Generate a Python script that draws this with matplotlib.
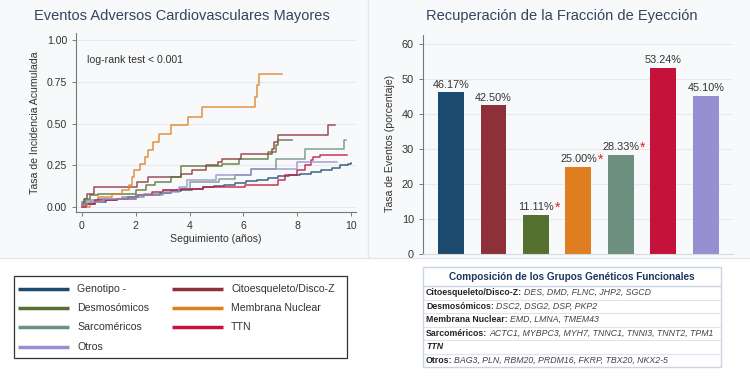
import matplotlib.pyplot as plt
from matplotlib.patches import Rectangle
from matplotlib.lines import Line2D

plt.rcParams["font.family"] = ["Liberation Sans", "DejaVu Sans"]

# grupos y colores
grupos = ["Genotipo -", "Citoesqueleto/Disco-Z", "Desmosómicos", "Membrana Nuclear",
          "Sarcoméricos", "TTN", "Otros"]
colores = ["#1c4a6e", "#8e3039", "#55702f", "#e07f22", "#6e9080", "#c4123a", "#968fd2"]

# curvas de incidencia acumulada
t_genotipo = [0, 0.2, 0.5, 0.9, 1.3, 1.7, 2.1, 2.5, 2.9, 3.3, 3.7, 4.1, 4.5, 4.9, 5.3, 5.7,
              6.1, 6.5, 6.9, 7.3, 7.7, 8.1, 8.5, 8.9, 9.3, 9.6, 9.9, 10.0]
y_genotipo = [0.01, 0.02, 0.03, 0.04, 0.05, 0.06, 0.07, 0.075, 0.085, 0.095, 0.105, 0.11,
              0.12, 0.125, 0.135, 0.145, 0.155, 0.165, 0.175, 0.185, 0.19, 0.20, 0.21,
              0.22, 0.235, 0.25, 0.26, 0.265]
t_citoesq = [0, 0.08, 0.2, 0.45, 2.05, 2.45, 3.7, 4.1, 4.6, 5.05, 5.2, 5.9, 7.05, 7.15, 7.3, 9.15, 9.4]
y_citoesq = [0.02, 0.05, 0.08, 0.12, 0.15, 0.18, 0.20, 0.22, 0.25, 0.27, 0.29, 0.32, 0.35,
             0.39, 0.43, 0.49, 0.49]
t_desmo = [0, 0.1, 0.3, 0.6, 2.0, 2.4, 2.7, 3.3, 3.7, 5.2, 5.85, 6.9, 7.2, 7.3, 7.8]
y_desmo = [0.03, 0.05, 0.07, 0.08, 0.10, 0.13, 0.15, 0.18, 0.245, 0.26, 0.29, 0.33, 0.37, 0.40, 0.40]
t_membrana = [0, 0.3, 0.6, 1.1, 1.5, 1.75, 1.85, 1.95, 2.15, 2.35, 2.45, 2.65, 2.85, 3.3,
              3.95, 4.45, 6.45, 6.52, 6.58, 7.45]
y_membrana = [0.0, 0.03, 0.06, 0.08, 0.10, 0.13, 0.18, 0.22, 0.26, 0.30, 0.34, 0.39, 0.44,
              0.49, 0.54, 0.60, 0.66, 0.73, 0.80, 0.80]
t_sarco = [0, 0.15, 0.6, 1.5, 2.3, 3.0, 3.6, 4.0, 5.1, 5.7, 6.3, 7.2, 8.3, 9.75, 9.8]
y_sarco = [0.02, 0.04, 0.05, 0.06, 0.08, 0.10, 0.11, 0.15, 0.17, 0.19, 0.23, 0.29, 0.35, 0.40, 0.40]
t_ttn = [0, 0.15, 0.5, 1.3, 2.0, 2.6, 3.0, 3.7, 4.5, 6.05, 7.3, 7.55, 8.0, 8.3, 8.5, 8.6, 8.85, 9.85]
y_ttn = [0.0, 0.02, 0.04, 0.05, 0.07, 0.09, 0.10, 0.11, 0.12, 0.13, 0.16, 0.19, 0.22, 0.25,
         0.28, 0.30, 0.31, 0.31]
t_otros = [0, 0.2, 0.8, 2.0, 3.0, 3.6, 3.9, 5.0, 6.3, 8.0, 9.5]
y_otros = [0.01, 0.03, 0.05, 0.07, 0.09, 0.12, 0.16, 0.19, 0.23, 0.27, 0.27]

curvas = [(t_genotipo, y_genotipo), (t_citoesq, y_citoesq), (t_desmo, y_desmo),
          (t_membrana, y_membrana), (t_sarco, y_sarco), (t_ttn, y_ttn), (t_otros, y_otros)]

# recuperación de la FE (%)
recuperacion = [46.17, 42.50, 11.11, 25.00, 28.33, 53.24, 45.10]
significativo = [False, False, True, True, True, False, False]

# tabla de composición
tabla_grupos = ["Citoesqueleto/Disco-Z", "Desmosómicos", "Membrana Nuclear", "Sarcoméricos", "TTN", "Otros"]
tabla_genes = ["DES, DMD, FLNC, JHP2, SGCD", "DSC2, DSG2, DSP, PKP2", "EMD, LMNA, TMEM43",
               "ACTC1, MYBPC3, MYH7, TNNC1, TNNI3, TNNT2, TPM1", "",
               "BAG3, PLN, RBM20, PRDM16, FKRP, TBX20, NKX2-5"]

W, H = 750, 385
fig = plt.figure(figsize=(W / 100, H / 100), dpi=100)


def px(l, t, r, b):
    return [l / W, 1 - b / H, (r - l) / W, (b - t) / H]


# fondo de los paneles superiores
fig.patches.append(Rectangle((0, 1 - 258 / H), 1, 258 / H, transform=fig.transFigure,
                             facecolor="#f8f9fa", edgecolor="none", zorder=-10))
fig.lines.append(Line2D([368 / W, 368 / W], [1 - 258 / H, 1], transform=fig.transFigure,
                        color="#e2e7ea", lw=1))
fig.lines.append(Line2D([0, 1], [1 - 258 / H, 1 - 258 / H], transform=fig.transFigure,
                        color="#e2e7ea", lw=1))

titulo_color = "#34435e"

# ---- panel izquierdo: incidencia acumulada
ax1 = fig.add_axes(px(76, 33, 356, 212))
ax1.set_facecolor("none")
for (t, y), c in zip(curvas, colores):
    ax1.plot(t, y, drawstyle="steps-post", color=c, lw=1.1, alpha=0.85)
ax1.set_xlim(-0.22, 10.19)
ax1.set_ylim(-0.03, 1.045)
ax1.set_xticks([0, 2, 4, 6, 8, 10])
ax1.set_yticks([0, 0.25, 0.5, 0.75, 1.0])
ax1.set_yticklabels(["0.00", "0.25", "0.50", "0.75", "1.00"])
ax1.grid(axis="y", color="#e6eaec", lw=0.8)
ax1.set_axisbelow(True)
for s in ["top", "right"]:
    ax1.spines[s].set_visible(False)
for s in ["left", "bottom"]:
    ax1.spines[s].set_color("#777777")
    ax1.spines[s].set_linewidth(0.8)
ax1.tick_params(colors="#777777", labelcolor="#333333", labelsize=7.6, length=3, width=0.7)
ax1.text(0.2, 0.88, "log-rank test < 0.001", fontsize=7.6, color="#333333", va="center")
fig.text(216 / W, 1 - 239 / H, "Seguimiento (años)", fontsize=7.6, color="#333333",
         ha="center", va="center")
fig.text(35 / W, 1 - 123 / H, "Tasa de Incidencia Acumulada", fontsize=7.6, color="#333333",
         ha="center", va="center", rotation=90)
fig.text(182 / W, 1 - 16 / H, "Eventos Adversos Cardiovasculares Mayores", fontsize=10.5,
         color=titulo_color, ha="center", va="center")

# ---- panel derecho: barras
ax2 = fig.add_axes(px(423, 35, 733, 254))
ax2.set_facecolor("none")
x = list(range(len(recuperacion)))
ax2.bar(x, recuperacion, width=0.61, color=colores, zorder=2)
ax2.set_xlim(-0.66, 6.64)
ax2.set_ylim(0, 62.6)
ax2.set_yticks(range(0, 61, 10))
ax2.set_xticks([])
ax2.grid(axis="y", color="#e6eaec", lw=0.8)
ax2.set_axisbelow(True)
for s in ["top", "right"]:
    ax2.spines[s].set_visible(False)
ax2.spines["left"].set_color("#777777")
ax2.spines["left"].set_linewidth(0.8)
ax2.spines["bottom"].set_color("#d5dadd")
ax2.spines["bottom"].set_linewidth(0.8)
ax2.tick_params(colors="#777777", labelcolor="#333333", labelsize=7.8, length=3, width=0.7)
for xi, v, sig in zip(x, recuperacion, significativo):
    ax2.annotate(f"{v:.2f}%", (xi, v), xytext=(0, 2), textcoords="offset points",
                 ha="center", va="bottom", fontsize=7.8, color="#333333")
    if sig:
        ax2.annotate("*", (xi, v), xytext=(15.6, 0), textcoords="offset points",
                     ha="center", va="bottom", fontsize=10, color="#e02020")
fig.text(390 / W, 1 - 143 / H, "Tasa de Eventos (porcentaje)", fontsize=7.6, color="#333333",
         ha="center", va="center", rotation=90)
fig.text(562 / W, 1 - 16 / H, "Recuperación de la Fracción de Eyección", fontsize=10.5,
         color=titulo_color, ha="center", va="center")

# ---- leyenda
axl = fig.add_axes(px(13, 276, 347, 359))
axl.set_xlim(13, 347)
axl.set_ylim(359, 276)
axl.axis("off")
axl.add_patch(Rectangle((13.5, 276.5), 333, 82, facecolor="white", edgecolor="#333333",
                        lw=0.9, clip_on=False))
orden = [0, 2, 4, 6, 1, 3, 5]
filas_y = [289, 308, 327.5, 347]
for k, g in enumerate(orden):
    col, fila = divmod(k, 4)
    x0 = 18 + col * 154
    yy = filas_y[fila]
    axl.plot([x0, x0 + 51], [yy, yy], color=colores[g], lw=2.5, solid_capstyle="butt")
    axl.text(x0 + 59, yy, grupos[g], fontsize=7.6, color="#333333", va="center")

# ---- tabla de composición
axt = fig.add_axes(px(422, 266, 721, 367))
axt.set_xlim(422, 721)
axt.set_ylim(367, 266)
axt.axis("off")
axt.add_patch(Rectangle((422.5, 266.5), 298, 100, facecolor="white", edgecolor="#c9d5e2",
                        lw=1, clip_on=False))
axt.text(571.5, 276.5, "Composición de los Grupos Genéticos Funcionales", fontsize=7.2,
         weight="bold", color="#1f3560", ha="center", va="center")
axt.plot([422.5, 720.5], [286, 286], color="#c9d5e2", lw=1)
renderer = fig.canvas.get_renderer()
for i, (g, genes) in enumerate(zip(tabla_grupos, tabla_genes)):
    yc = 292.75 + 13.5 * i
    if i > 0:
        axt.plot([422.5, 720.5], [yc - 6.75, yc - 6.75], color="#dde4ec", lw=0.8)
    if genes:
        t1 = axt.text(426, yc, g + ":", fontsize=6.3, weight="bold", color="#222222", va="center")
        bb = t1.get_window_extent(renderer)
        x2 = axt.transData.inverted().transform((bb.x1, 0))[0]
        axt.text(x2 + 2, yc, genes, fontsize=6.3, style="italic", color="#444444", va="center")
    else:
        axt.text(426, yc, g, fontsize=6.3, weight="bold", style="italic", color="#222222",
                 va="center")

fig.savefig("out.png", dpi=100)
